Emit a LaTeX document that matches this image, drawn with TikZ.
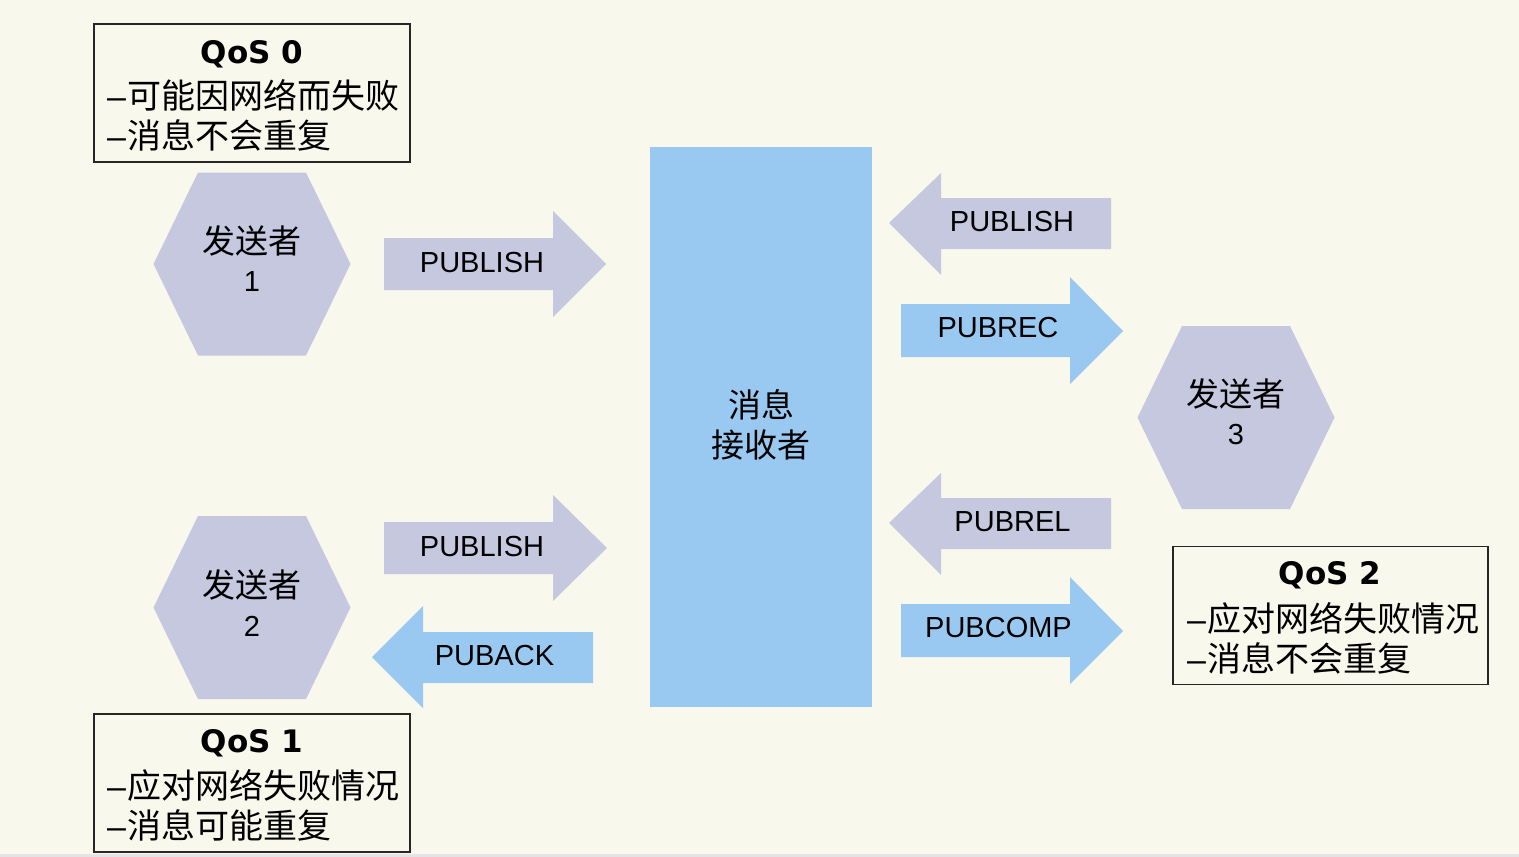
\documentclass[tikz,border=0pt]{standalone}
\usepackage{fontspec}
\setmainfont{Liberation Sans}
\newfontfamily\cjk{Noto Sans CJK SC}
\newfontfamily\ttlfont{DejaVu Sans}
\definecolor{bg}{RGB}{248,248,237}
\definecolor{lav}{RGB}{197,200,222}
\definecolor{sky}{RGB}{153,201,240}
\definecolor{strip}{RGB}{228,228,228}
\begin{document}
\begin{tikzpicture}[x=1pt,y=-1pt,
  lat/.style={font=\fontsize{29}{35}\selectfont, inner sep=0pt},
  han/.style={font=\cjk\fontsize{33}{40}\selectfont, inner sep=0pt},
  ttl/.style={font=\ttlfont\bfseries\fontsize{31}{36}\selectfont, inner sep=0pt, anchor=base},
  qline/.style={font=\fontsize{34}{40}\selectfont, inner sep=0pt, anchor=west},
  qbox/.style={draw=black!85, line width=1.6pt, minimum width=316pt, minimum height=138pt, inner sep=0pt},
  recvbox/.style={fill=sky, minimum width=222pt, minimum height=560pt, inner sep=0pt},
  hexa/.pic={\fill[lav] (-54,-91.5) -- (54,-91.5) -- (98.5,0) -- (54,91.5) -- (-54,91.5) -- (-98.5,0) -- cycle;},
  garrow/.style={fill=lav}, barrow/.style={fill=sky}]
\useasboundingbox (0,0) rectangle (1519,857);
\fill[bg] (0,0) rectangle (1519,857);
\fill[strip] (0,854) rectangle (1519,857);

% QoS 0 box
\node[qbox] (q0) at (252,93) {};
\node[ttl] (q0t) at (252,63) {QoS 0};
\node[qline] (q0a) at (107,95) {–\hspace{1pt}{\cjk 可能因网络而失败}};
\node[qline] (q0b) at (107,135) {–\hspace{1pt}{\cjk 消息不会重复}};

% QoS 1 box
\node[qbox] (q1) at (252,783) {};
\node[ttl] (q1t) at (252,752.5) {QoS 1};
\node[qline] (q1a) at (107,785) {–\hspace{1pt}{\cjk 应对网络失败情况}};
\node[qline] (q1b) at (107,825) {–\hspace{1pt}{\cjk 消息可能重复}};

% QoS 2 box
\node[qbox, minimum width=315pt] (q2) at (1330.5,615.5) {};
\node[ttl] (q2t) at (1330,584.5) {QoS 2};
\node[qline] (q2a) at (1187,618) {–\hspace{1pt}{\cjk 应对网络失败情况}};
\node[qline] (q2b) at (1187,658) {–\hspace{1pt}{\cjk 消息不会重复}};

% senders
\pic at (252,264) {hexa};
\node[han] (s1a) at (252,241) {发送者};
\node[lat] (s1b) at (252,282) {1};
\pic at (252,607.5) {hexa};
\node[han] (s2a) at (252,585) {发送者};
\node[lat] (s2b) at (252,626) {2};
\pic at (1236,417.5) {hexa};
\node[han] (s3a) at (1236,394) {发送者};
\node[lat] (s3b) at (1236,435) {3};

% receiver
\node[recvbox] (recv) at (761,427) {};
\node[han] (r1) at (761,405) {消息};
\node[han] (r2) at (761,445) {接收者};

% arrows left side
\fill[garrow] (384,238) -- (553,238) -- (553,211) -- (606,264) -- (553,317) -- (553,290) -- (384,290) -- cycle;
\node[lat] (a1) at (482,262.5) {PUBLISH};
\fill[garrow] (384,522) -- (553,522) -- (553,495) -- (607,548) -- (553,601) -- (553,574) -- (384,574) -- cycle;
\node[lat] (a2) at (482,547) {PUBLISH};
\fill[barrow] (593,632) -- (423,632) -- (423,606) -- (372,657) -- (423,708) -- (423,683) -- (593,683) -- cycle;
\node[lat] (a3) at (494.5,655.5) {PUBACK};

% arrows right side
\fill[garrow] (1111,198) -- (941,198) -- (941,173) -- (889,223) -- (941,275) -- (941,249) -- (1111,249) -- cycle;
\node[lat] (a4) at (1012,222) {PUBLISH};
\fill[barrow] (901,304) -- (1070,304) -- (1070,277) -- (1123,331) -- (1070,384) -- (1070,357) -- (901,357) -- cycle;
\node[lat] (a5) at (998,327.5) {PUBREC};
\fill[garrow] (1111,498) -- (941,498) -- (941,473) -- (889,523) -- (941,575) -- (941,549) -- (1111,549) -- cycle;
\node[lat] (a6) at (1012.5,522) {PUBREL};
\fill[barrow] (901,604) -- (1070,604) -- (1070,577) -- (1123,631) -- (1070,684) -- (1070,657) -- (901,657) -- cycle;
\node[lat] (a7) at (998.5,627.5) {PUBCOMP};
\end{tikzpicture}
\end{document}
